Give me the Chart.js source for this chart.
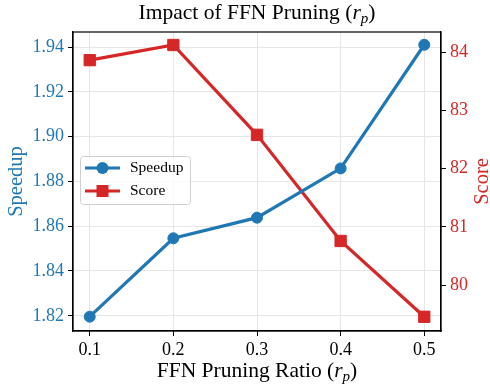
<!DOCTYPE html>
<html>
<head>
<meta charset="utf-8">
<script src="https://cdn.jsdelivr.net/npm/chart.js@4.4.0/dist/chart.umd.min.js"></script>
<style>
html,body{margin:0;padding:0;background:#fff}
#wrap{width:490px;height:386px}
</style>
</head>
<body>
<div id="wrap"><canvas id="c" width="490" height="386"></canvas></div>
<script>
'use strict'

// data
const ratios = [0.1, 0.2, 0.3, 0.4, 0.5];
const speedup = [1.8196, 1.8546, 1.8638, 1.8858, 1.9410];
const score = [83.86, 84.12, 82.58, 80.76, 79.46];
const xTicks = [0.1, 0.2, 0.3, 0.4, 0.5];
const speedTicks = [1.82, 1.84, 1.86, 1.88, 1.90, 1.92, 1.94];
const scoreTicks = [80, 81, 82, 83, 84];

const BLUE = '#1f77b4';
const RED = '#d62728';
const SERIF = "'Liberation Serif', 'DejaVu Serif', serif";

Chart.defaults.font.family = SERIF;

function toPoints(xs, ys) {
    return xs.map((x, i) => ({x: x, y: ys[i]}));
}

// draws text made of pieces (normal / italic / subscript)
function mixedText(ctx, parts, x, y, rot) {
    ctx.save();
    ctx.translate(x, y);
    if (rot) ctx.rotate(rot);
    let total = 0;
    parts.forEach(p => { ctx.font = p.f; total += ctx.measureText(p.t).width; });
    let cx = -total / 2;
    ctx.textBaseline = 'alphabetic';
    ctx.textAlign = 'left';
    parts.forEach(p => {
        ctx.font = p.f;
        ctx.fillStyle = p.c || '#000';
        ctx.fillText(p.t, cx, p.dy || 0);
        cx += ctx.measureText(p.t).width;
    });
    ctx.restore();
}

function rpLabel(text, size) {
    return [
        {t: text + ' (', f: size + 'px ' + SERIF},
        {t: 'r', f: 'italic ' + size + 'px ' + SERIF},
        {t: 'p', f: 'italic ' + Math.round(size * 0.7) + 'px ' + SERIF, dy: 4},
        {t: ')', f: size + 'px ' + SERIF}
    ];
}

const decor = {
    id: 'decor',
    afterDraw(chart) {
        const ctx = chart.ctx;
        const a = chart.chartArea;
        const mid = (a.left + a.right) / 2;

        // frame
        ctx.save();
        ctx.strokeStyle = '#000';
        ctx.lineWidth = 1.2;
        ctx.strokeRect(a.left, a.top, a.right - a.left, a.bottom - a.top);
        ctx.restore();

        mixedText(ctx, rpLabel('Impact of FFN Pruning', 21.5), mid, 19, 0);
        mixedText(ctx, rpLabel('FFN Pruning Ratio', 21.5), mid, 377, 0);

        // y labels
        const cy = (a.top + a.bottom) / 2;
        mixedText(ctx, [{t: 'Speedup', f: '20.5px ' + SERIF, c: BLUE}], 22, cy, -Math.PI / 2);
        mixedText(ctx, [{t: 'Score', f: '20.5px ' + SERIF, c: RED}], 488, cy, -Math.PI / 2);

        // legend
        ctx.save();
        const bx = 80.5, by = 156.5, bw = 110, bh = 48;
        ctx.beginPath();
        ctx.roundRect(bx, by, bw, bh, 3);
        ctx.fillStyle = 'rgba(255,255,255,0.8)';
        ctx.fill();
        ctx.strokeStyle = '#d0d0d0';
        ctx.lineWidth = 1;
        ctx.stroke();
        const items = [
            {label: 'Speedup', c: BLUE, style: 'circle', y: 168},
            {label: 'Score', c: RED, style: 'rect', y: 191}
        ];
        items.forEach(it => {
            ctx.strokeStyle = it.c;
            ctx.fillStyle = it.c;
            ctx.lineWidth = 3;
            ctx.beginPath();
            ctx.moveTo(85, it.y);
            ctx.lineTo(120, it.y);
            ctx.stroke();
            ctx.beginPath();
            if (it.style === 'circle') ctx.arc(102.5, it.y, 6, 0, Math.PI * 2);
            else ctx.rect(96.5, it.y - 6, 12, 12);
            ctx.fill();
            ctx.fillStyle = '#000';
            ctx.font = '15.5px ' + SERIF;
            ctx.textBaseline = 'middle';
            ctx.textAlign = 'left';
            ctx.fillText(it.label, 130, it.y);
        });
        ctx.restore();
    }
};

const ctx = document.getElementById('c').getContext('2d');
const myChart = new Chart(ctx, {
    type: 'line',
    data: {
        datasets: [{
            label: 'Speedup',
            data: toPoints(ratios, speedup),
            yAxisID: 'y',
            borderColor: BLUE,
            backgroundColor: BLUE,
            borderWidth: 3.2,
            pointStyle: 'circle',
            pointRadius: 5.5,
            pointBorderWidth: 1,
            tension: 0
        }, {
            label: 'Score',
            data: toPoints(ratios, score),
            yAxisID: 'y1',
            borderColor: RED,
            backgroundColor: RED,
            borderWidth: 3.2,
            pointStyle: 'rect',
            pointRadius: 8,
            pointBorderWidth: 1,
            tension: 0
        }]
    },
    options: {
        responsive: false,
        animation: false,
        devicePixelRatio: 1,
        layout: {padding: {top: 32, left: 0, right: 0, bottom: 0}},
        plugins: {
            legend: {display: false},
            title: {display: false},
            tooltip: {enabled: false}
        },
        scales: {
            x: {
                type: 'linear',
                min: 0.08,
                max: 0.52,
                afterBuildTicks: s => { s.ticks = xTicks.map(v => ({value: v})); },
                afterFit: s => { s.height = 55; },
                ticks: {
                    color: '#000',
                    font: {size: 18},
                    padding: 3,
                    callback: v => v.toFixed(1)
                },
                grid: {color: '#e6e6e6', tickColor: '#000', tickLength: 5},
                border: {color: '#000', width: 1.2}
            },
            y: {
                position: 'left',
                min: 1.8132,
                max: 1.9467,
                afterBuildTicks: s => { s.ticks = speedTicks.map(v => ({value: v})); },
                afterFit: s => { s.width = 73; },
                ticks: {
                    color: BLUE,
                    font: {size: 18},
                    padding: 4,
                    callback: v => v.toFixed(2)
                },
                grid: {color: '#e6e6e6', tickColor: '#000', tickLength: 5},
                border: {color: '#000', width: 1.2}
            },
            y1: {
                position: 'right',
                min: 79.216,
                max: 84.343,
                afterBuildTicks: s => { s.ticks = scoreTicks.map(v => ({value: v})); },
                afterFit: s => { s.width = 49; },
                ticks: {
                    color: RED,
                    font: {size: 18},
                    padding: 4,
                    callback: v => String(v)
                },
                grid: {drawOnChartArea: false, tickColor: '#000', tickLength: 5},
                border: {color: '#000', width: 1.2}
            }
        }
    },
    plugins: [decor]
});
</script>
</body>
</html>
